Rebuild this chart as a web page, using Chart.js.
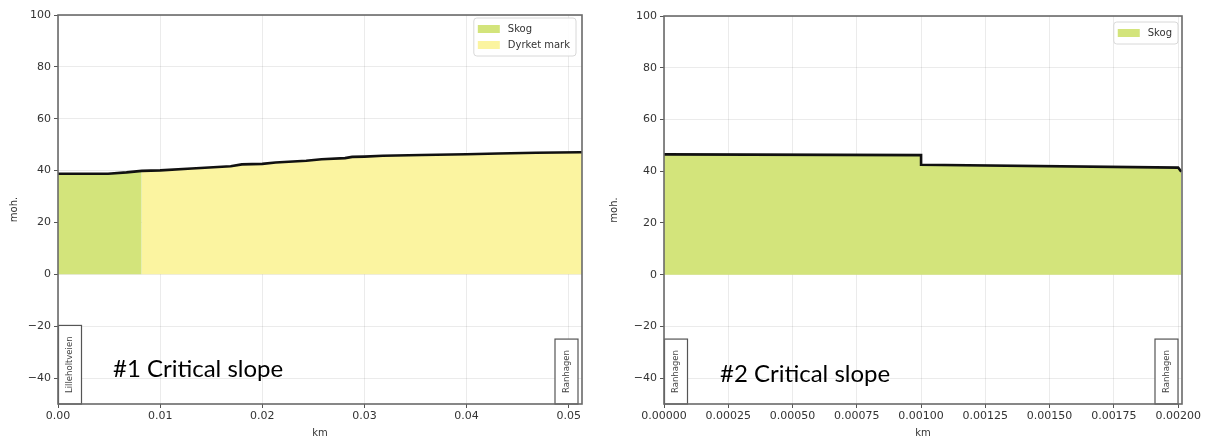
<!DOCTYPE html>
<html>
<head>
<meta charset="utf-8">
<title>Terrengprofil</title>
<script src="https://cdn.jsdelivr.net/npm/chart.js@4.4.1/dist/chart.umd.min.js"></script>
<style>
  html, body { margin: 0; padding: 0; background: #fff; width: 1213px; height: 441px; overflow: hidden; }
  .panel { position: absolute; top: 0; height: 441px; }
  #p1 { left: 0; width: 600px; }
  #p2 { left: 600px; width: 613px; }
</style>
</head>
<body>
<div class="panel" id="p1"><canvas id="c1" width="600" height="441"></canvas></div>
<div class="panel" id="p2"><canvas id="c2" width="613" height="441"></canvas></div>
<script>
// ---- Profile #1: Lilleholtveien -> Ranhagen ----
const distanceKm1 = [0, 0.0049, 0.0067, 0.0082, 0.0100, 0.0131, 0.0169, 0.0180, 0.0200, 0.0213,
                     0.0243, 0.0258, 0.0281, 0.0288, 0.0300, 0.0318, 0.0356, 0.0400, 0.0431, 0.0468,
                     0.0511, 0.0513];
const elevation1  = [38.8, 38.8, 39.3, 39.9, 40.1, 40.8, 41.7, 42.4, 42.6, 43.1,
                     43.8, 44.4, 44.8, 45.3, 45.4, 45.7, 46.0, 46.3, 46.6, 46.9,
                     47.1, 47.1];
const coverBreak1 = 0.0082;          // Skog ends, Dyrket mark begins
const xTicks1 = [0, 0.01, 0.02, 0.03, 0.04, 0.05];
const xMax1 = 0.0513;

// ---- Profile #2: Ranhagen -> Ranhagen ----
const distanceKm2 = [0, 0.0010, 0.0010, 0.0020, 0.002012];
const elevation2  = [46.5, 46.2, 42.5, 41.4, 39.8];
const xTicks2 = [0, 0.00025, 0.0005, 0.00075, 0.001, 0.00125, 0.0015, 0.00175, 0.002];
const xMax2 = 0.002015;

// ---- shared ----
const elevTicks = [-40, -20, 0, 20, 40, 60, 80, 100];
const skogColor = '#d3e47b';
const dyrketColor = '#fbf4a0';
const labelFont = 'DejaVu Sans';

const toPoints = (xs, ys) => xs.map((x, i) => ({ x, y: ys[i] }));

// Draws the inset legend, the place tags, the caption and the axes frame.
const profileDecor = {
  id: 'profileDecor',
  afterDraw(chart, args, o) {
    const { ctx, chartArea: a } = chart;
    ctx.save();

    // place-name tags standing on the bottom axis
    ctx.font = '8.5px "' + labelFont + '"';
    (o.tags || []).forEach(t => {
      const tw = ctx.measureText(t.text).width;
      const bw = 23, bh = tw + 22;
      const bx = t.side === 'left' ? a.left + 0.5 : a.right - 4 - bw;
      const by = a.bottom - bh;
      ctx.fillStyle = '#fff';
      ctx.fillRect(bx, by, bw, bh);
      ctx.strokeStyle = '#555';
      ctx.lineWidth = 1.2;
      ctx.strokeRect(bx, by, bw, bh);
      ctx.save();
      ctx.translate(bx + bw / 2, by + bh / 2);
      ctx.rotate(-Math.PI / 2);
      ctx.fillStyle = '#444';
      ctx.textAlign = 'center';
      ctx.textBaseline = 'middle';
      ctx.fillText(t.text, 0, 0);
      ctx.restore();
    });

    // legend in the upper right corner of the plot
    const items = chart.data.datasets.filter(d => d.legendItem);
    ctx.font = '10px "' + labelFont + '"';
    const textW = Math.max(...items.map(d => ctx.measureText(d.label).width));
    const w = 4 + 22 + 8 + textW + 6;
    const h = 6 + 16 * items.length;
    const lx = a.right - o.legendRight - w;
    const ly = a.top + o.legendTop;
    ctx.beginPath();
    ctx.roundRect(lx, ly, w, h, 3);
    ctx.fillStyle = 'rgba(255,255,255,0.9)';
    ctx.fill();
    ctx.strokeStyle = '#d8d8d8';
    ctx.lineWidth = 1;
    ctx.stroke();
    items.forEach((d, i) => {
      const cy = ly + 3 + 16 * i + 8;
      ctx.fillStyle = d.backgroundColor;
      ctx.fillRect(lx + 4, cy - 4, 22, 8);
      ctx.fillStyle = '#333';
      ctx.textAlign = 'left';
      ctx.textBaseline = 'middle';
      ctx.fillText(d.label, lx + 34, cy);
    });

    // caption
    ctx.font = '24px Lato, "Open Sans", sans-serif';
    ctx.fillStyle = '#000';
    ctx.textAlign = 'left';
    ctx.textBaseline = 'alphabetic';
    ctx.fillText(o.caption, a.left + o.captionLeft, a.bottom - o.captionUp);

    // axes frame
    ctx.strokeStyle = '#6a6a6a';
    ctx.lineWidth = 1.6;
    ctx.strokeRect(a.left, a.top, a.width, a.height);
    ctx.restore();
  }
};

function makeChart(canvasId, cfg) {
  const profile = toPoints(cfg.xs, cfg.ys);
  const datasets = [
    { label: 'Profil', data: profile, borderColor: '#111', borderWidth: 2.6,
      pointRadius: 0, fill: false, tension: 0, order: 0 }
  ];
  cfg.covers.forEach(c => {
    datasets.push({
      label: c.label,
      data: profile.filter(p => p.x >= c.from && p.x <= c.to),
      backgroundColor: c.color, borderColor: 'transparent', borderWidth: 0,
      pointRadius: 0, fill: 'origin', tension: 0, order: 1, legendItem: true
    });
  });

  return new Chart(document.getElementById(canvasId), {
    type: 'line',
    data: { datasets },
    plugins: [profileDecor],
    options: {
      responsive: false,
      animation: false,
      events: [],
      devicePixelRatio: 1,
      layout: { padding: { top: cfg.top, right: cfg.right, left: 0, bottom: 0 } },
      plugins: {
        legend: { display: false },
        tooltip: { enabled: false },
        profileDecor: cfg.decor
      },
      scales: {
        x: {
          type: 'linear', min: 0, max: cfg.xMax, z: 1,
          afterBuildTicks: s => { s.ticks = cfg.xTicks.map(v => ({ value: v })); },
          afterFit: s => { s.height = 37; },
          grid: { color: 'rgba(0,0,0,0.08)', tickColor: '#555', tickLength: 4, lineWidth: 1 },
          border: { display: false },
          ticks: {
            color: '#333', font: { family: labelFont, size: 11 }, padding: 2,
            maxRotation: 0, autoSkip: false,
            callback: v => Number(v).toFixed(cfg.decimals)
          },
          title: { display: true, text: 'km', color: '#333',
                   font: { family: labelFont, size: 10 }, padding: { top: 0, bottom: 2 } }
        },
        y: {
          type: 'linear', min: -50, max: 100, z: 1,
          afterBuildTicks: s => { s.ticks = elevTicks.map(v => ({ value: v })); },
          afterFit: s => { s.width = cfg.yWidth; },
          grid: { color: 'rgba(0,0,0,0.08)', tickColor: '#555', tickLength: 4, lineWidth: 1 },
          border: { display: false },
          ticks: { color: '#333', font: { family: labelFont, size: 11 }, padding: 3,
                   callback: v => String(v).replace('-', '\u2212') },
          title: { display: true, text: 'moh.', color: '#333',
                   font: { family: labelFont, size: 10 }, padding: { top: 8, bottom: 0 } }
        }
      }
    }
  });
}

makeChart('c1', {
  xs: distanceKm1, ys: elevation1, xTicks: xTicks1, xMax: xMax1, decimals: 2,
  top: 15, right: 18, yWidth: 58,
  covers: [
    { label: 'Skog', from: 0, to: coverBreak1, color: skogColor },
    { label: 'Dyrket mark', from: coverBreak1, to: xMax1, color: dyrketColor }
  ],
  decor: {
    legendRight: 6, legendTop: 3,
    caption: '#1 Critical slope', captionLeft: 55, captionUp: 27,
    tags: [ { text: 'Lilleholtveien', side: 'left' }, { text: 'Ranhagen', side: 'right' } ]
  }
});

makeChart('c2', {
  xs: distanceKm2, ys: elevation2, xTicks: xTicks2, xMax: xMax2, decimals: 5,
  top: 16, right: 31, yWidth: 64,
  covers: [
    { label: 'Skog', from: 0, to: xMax2, color: skogColor }
  ],
  decor: {
    legendRight: 4, legendTop: 6,
    caption: '#2 Critical slope', captionLeft: 56, captionUp: 22,
    tags: [ { text: 'Ranhagen', side: 'left' }, { text: 'Ranhagen', side: 'right' } ]
  }
});
</script>
</body>
</html>
